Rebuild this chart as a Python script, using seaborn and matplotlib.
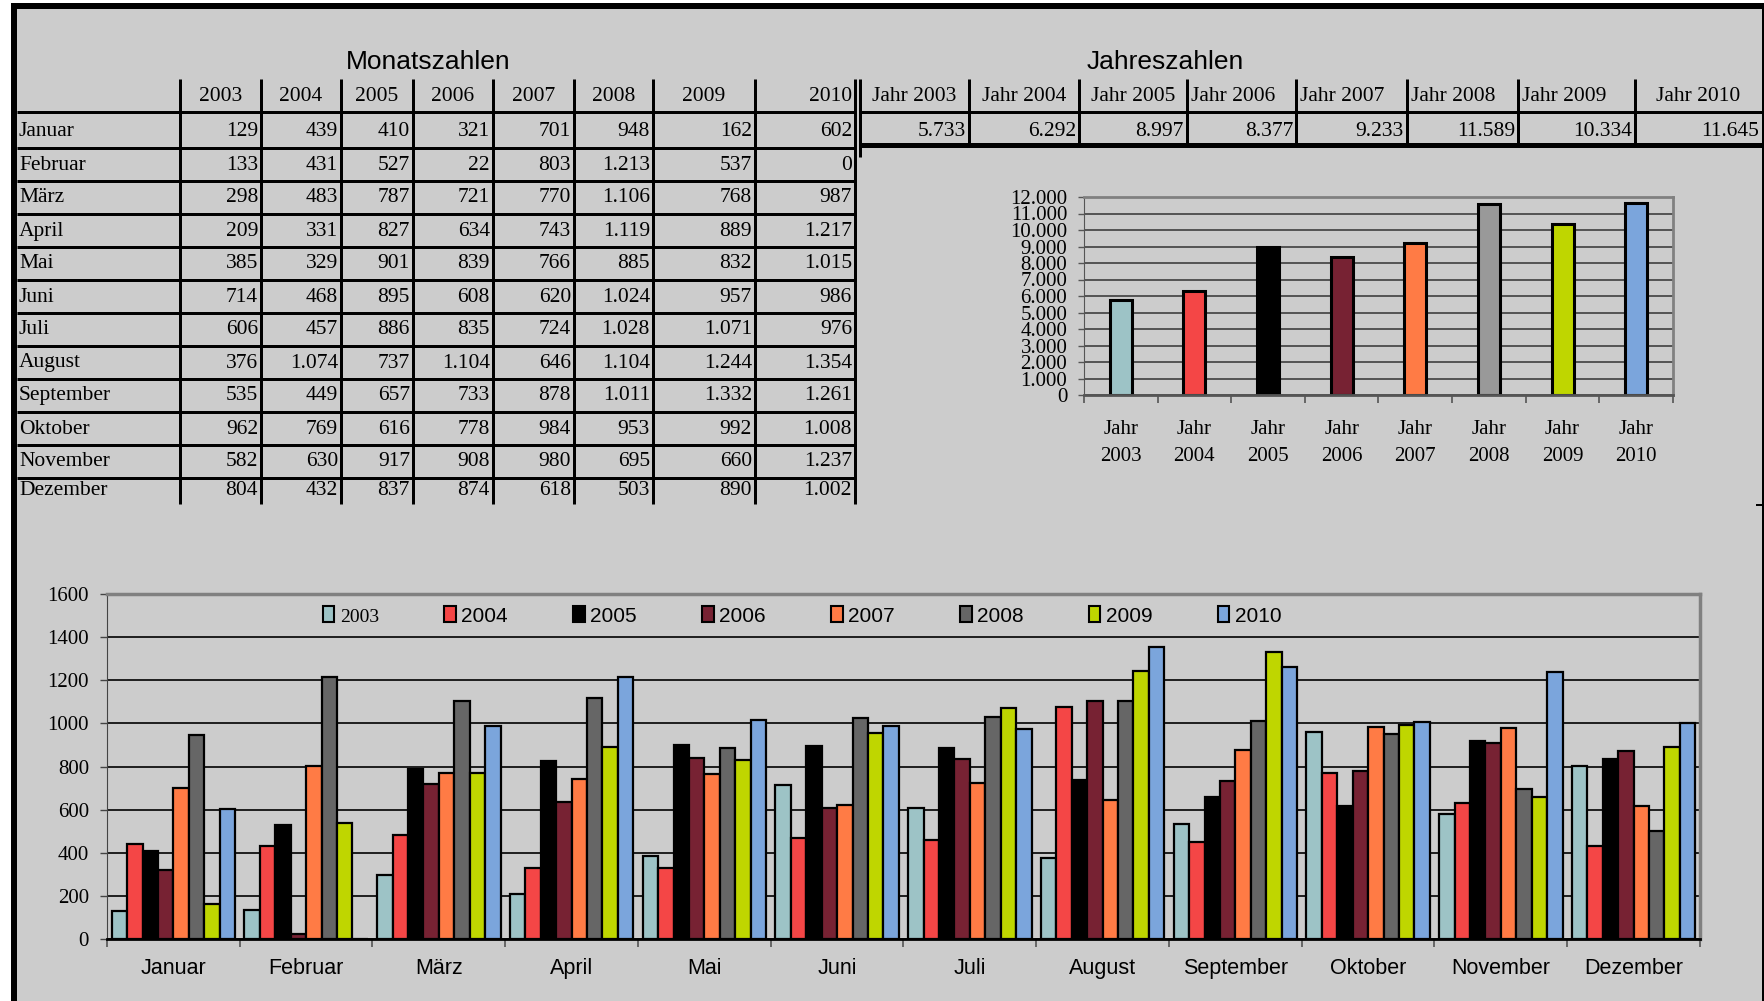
import numpy as np
import pandas as pd
import matplotlib
matplotlib.use('Agg')
import matplotlib.pyplot as plt
import seaborn as sns
from matplotlib.lines import Line2D
from matplotlib.patches import Rectangle, Patch
from matplotlib.ticker import FuncFormatter, MultipleLocator

# ============================================================================
# DATA
# ============================================================================

monate = ['Januar', 'Februar', 'März', 'April', 'Mai', 'Juni', 'Juli',
          'August', 'September', 'Oktober', 'November', 'Dezember']
jahre = ['2003', '2004', '2005', '2006', '2007', '2008', '2009', '2010']

werte_2003 = [129, 133, 298, 209, 385, 714, 606, 376, 535, 962, 582, 804]
werte_2004 = [439, 431, 483, 331, 329, 468, 457, 1074, 449, 769, 630, 432]
werte_2005 = [410, 527, 787, 827, 901, 895, 886, 737, 657, 616, 917, 837]
werte_2006 = [321, 22, 721, 634, 839, 608, 835, 1104, 733, 778, 908, 874]
werte_2007 = [701, 803, 770, 743, 766, 620, 724, 646, 878, 984, 980, 618]
werte_2008 = [948, 1213, 1106, 1119, 885, 1024, 1028, 1104, 1011, 953, 695, 503]
werte_2009 = [162, 537, 768, 889, 832, 957, 1071, 1244, 1332, 992, 660, 890]
werte_2010 = [602, 0, 987, 1217, 1015, 986, 976, 1354, 1261, 1008, 1237, 1002]
monatswerte = [werte_2003, werte_2004, werte_2005, werte_2006,
               werte_2007, werte_2008, werte_2009, werte_2010]

jahres_labels = ['Jahr 2003', 'Jahr 2004', 'Jahr 2005', 'Jahr 2006',
                 'Jahr 2007', 'Jahr 2008', 'Jahr 2009', 'Jahr 2010']
jahreswerte = [5733, 6292, 8997, 8377, 9233, 11589, 10334, 11645]

farben = ['#9DC3C6', '#F44646', '#000000', '#772233',
          '#FF7B45', '#666666', '#BFD600', '#7BA5DC']
farben_jahr = ['#9DC3C6', '#F44646', '#000000', '#772233',
               '#FF7B45', '#999999', '#BFD600', '#7BA5DC']

GRAU = '#CCCCCC'
SERIF = 'Liberation Serif'
SANS = 'Liberation Sans'


def de(v):
    return f'{int(v):,}'.replace(',', '.')


# ============================================================================
# FIGURE + FRAME (pixel helpers)
# ============================================================================

FW, FH = 1765, 1001
fig = plt.figure(figsize=(FW / 100, FH / 100), dpi=100, facecolor='white')


def fx(x):
    return x / FW


def fy(y):
    return 1 - y / FH


def rect(x0, y0, x1, y1, color, z=-10):
    fig.add_artist(Rectangle((fx(x0), fy(y1)), fx(x1) - fx(x0), fy(y0) - fy(y1),
                             transform=fig.transFigure, color=color, zorder=z, lw=0))


def line(x0, y0, x1, y1, px=3):
    fig.add_artist(Line2D([fx(x0), fx(x1)], [fy(y0), fy(y1)], color='black',
                          linewidth=px * 0.72, transform=fig.transFigure,
                          solid_capstyle='butt', zorder=3))


rect(11, 3, FW, FH, 'black', z=-11)
rect(17, 9, 1762, FH, GRAU, z=-10)
line(1756, 505, 1762, 505, px=2)

# ============================================================================
# TABLES
# ============================================================================

fig.text(fx(428), fy(62), 'Monatszahlen', ha='center', va='center',
         fontsize=19, family=SANS)
fig.text(fx(1165), fy(62), 'Jahreszahlen', ha='center', va='center',
         fontsize=19, family=SANS)

links = [17, 180, 261, 341, 413, 493, 574, 653, 755, 855]
rechts = [860, 969, 1079, 1187, 1296, 1407, 1518, 1635, 1762]
kopf_y = 97
zeilen_y = [132, 165, 198, 231, 264, 297, 330, 363, 396, 429, 462, 491]
fs_tab = 15.5

# left table lines
for x in links[1:]:
    line(x, 79, x, 504, px=3)
line(17, 112, 855, 112, px=3)
for k in range(11):
    y = 148 + 33 * k
    line(17, y, 855, y, px=3)

# left table text
for i, j in enumerate(jahre):
    x0, x1 = links[i + 1], links[i + 2]
    if j == '2010':
        fig.text(fx(x1 - 3), fy(kopf_y), j, ha='right', va='center',
                 fontsize=fs_tab, family=SERIF)
    else:
        fig.text(fx((x0 + x1) / 2), fy(kopf_y), j, ha='center', va='center',
                 fontsize=fs_tab, family=SERIF)
for r, m in enumerate(monate):
    fig.text(fx(19), fy(zeilen_y[r]), m, ha='left', va='center',
             fontsize=fs_tab, family=SERIF)
    for i in range(len(jahre)):
        fig.text(fx(links[i + 2] - 3), fy(zeilen_y[r]), de(monatswerte[i][r]),
                 ha='right', va='center', fontsize=fs_tab, family=SERIF)

# right table lines
line(860, 79, 860, 157, px=3)
for x in rechts[1:-1]:
    line(x, 79, x, 145, px=3)
line(860, 112, 1762, 112, px=3)
line(860, 145, 1762, 145, px=5)

ausrichtung = ['center', 'center', 'center', 'left', 'left', 'left', 'left', 'center']
for i, lab in enumerate(jahres_labels):
    x0, x1 = rechts[i], rechts[i + 1]
    if ausrichtung[i] == 'center':
        fig.text(fx((x0 + x1) / 2), fy(kopf_y), lab, ha='center', va='center',
                 fontsize=fs_tab, family=SERIF)
    else:
        fig.text(fx(x0 + 4), fy(kopf_y), lab, ha='left', va='center',
                 fontsize=fs_tab, family=SERIF)
    fig.text(fx(x1 - 3), fy(zeilen_y[0]), de(jahreswerte[i]), ha='right',
             va='center', fontsize=fs_tab, family=SERIF)

# ============================================================================
# SMALL CHART - JAHRESZAHLEN
# ============================================================================

ax1 = fig.add_axes([fx(1084), fy(395), fx(1673) - fx(1084), fy(197) - fy(395)])
ax1.set_facecolor(GRAU)
sns.barplot(x=jahres_labels, y=jahreswerte, hue=jahres_labels, palette=farben_jahr,
            legend=False, width=0.3, edgecolor='black', linewidth=2.2,
            saturation=1, ax=ax1)
ax1.set_ylim(0, 12000)
ax1.set_xlim(-0.5, 7.5)
ax1.yaxis.set_major_locator(MultipleLocator(1000))
ax1.yaxis.set_major_formatter(FuncFormatter(lambda v, p: de(v)))
ax1.grid(axis='y', color='#333333', linewidth=1.1)
ax1.set_axisbelow(True)
ax1.set_xticks(range(8))
ax1.set_xticklabels([l.replace(' ', '\n') for l in jahres_labels],
                    linespacing=1.55, family=SERIF, fontsize=15)
ax1.set_xticks(np.arange(-0.5, 8, 1), minor=True)
ax1.tick_params(axis='x', which='major', length=0, pad=18)
ax1.tick_params(axis='x', which='minor', length=6, width=1.2, color='#555555')
ax1.tick_params(axis='y', length=4, width=1, color='#555555', pad=8, labelsize=15)
for t in ax1.get_yticklabels():
    t.set_family(SERIF)
for s in ['top', 'right']:
    ax1.spines[s].set_color('#808080')
    ax1.spines[s].set_linewidth(2)
ax1.spines['left'].set_color('#555555')
ax1.spines['bottom'].set_color('#555555')
ax1.spines['bottom'].set_linewidth(2)
ax1.set_xlabel('')
ax1.set_ylabel('')

# ============================================================================
# BIG CHART - MONATSZAHLEN
# ============================================================================

df = pd.DataFrame({
    'Monat': [m for j in jahre for m in monate],
    'Jahr': [j for j in jahre for m in monate],
    'Wert': [v for werte in monatswerte for v in werte],
})

ax2 = fig.add_axes([fx(107), fy(939), fx(1700) - fx(107), fy(594) - fy(939)])
ax2.set_facecolor(GRAU)
sns.barplot(data=df, x='Monat', y='Wert', hue='Jahr', order=monate, hue_order=jahre,
            palette=farben, width=0.93, edgecolor='black', linewidth=1.6,
            saturation=1, legend=False, ax=ax2)
ax2.set_ylim(0, 1600)
ax2.set_xlim(-0.5, 11.5)
ax2.yaxis.set_major_locator(MultipleLocator(200))
ax2.grid(axis='y', color='black', linewidth=1.2)
ax2.set_axisbelow(True)
ax2.set_xticks(range(12))
ax2.set_xticklabels(monate, family=SANS, fontsize=15.5)
ax2.set_xticks(np.arange(-0.5, 12, 1), minor=True)
ax2.tick_params(axis='x', which='major', length=0, pad=14)
ax2.tick_params(axis='x', which='minor', length=6, width=1.2, color='#555555')
ax2.tick_params(axis='y', length=5, width=1, color='#444444', pad=8, labelsize=15)
for t in ax2.get_yticklabels():
    t.set_family(SERIF)
for s in ['top', 'right']:
    ax2.spines[s].set_color('#808080')
    ax2.spines[s].set_linewidth(2.5)
ax2.spines['left'].set_color('#444444')
ax2.spines['bottom'].set_color('black')
ax2.spines['bottom'].set_linewidth(2)
ax2.set_xlabel('')
ax2.set_ylabel('')

handles = [Patch(facecolor=c, edgecolor='black', linewidth=1.5) for c in farben]
leg = ax2.legend(handles, jahre, ncol=8, loc='center left',
                 bbox_to_anchor=((323 - 107) / 1593, (939 - 616) / 345),
                 frameon=False, borderpad=0, borderaxespad=0,
                 handlelength=0.55, handleheight=0.8, handletextpad=0.25,
                 columnspacing=3.15, prop={'family': SANS, 'size': 15})
leg.get_texts()[0].set_family(SERIF)
leg.get_texts()[0].set_fontsize(14)

fig.savefig('out.png', dpi=100, facecolor='white')
